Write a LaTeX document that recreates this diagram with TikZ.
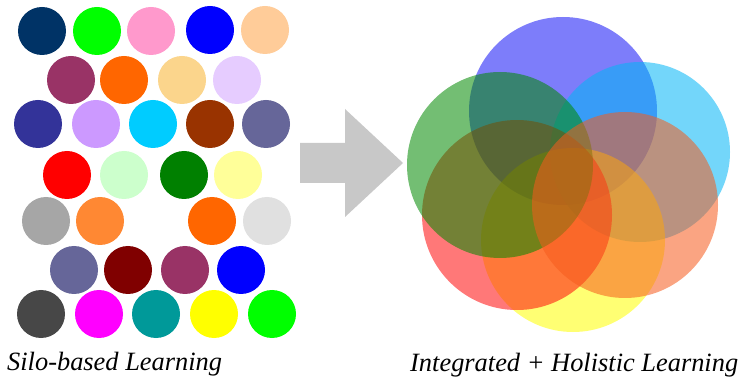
\documentclass[tikz,border=0pt]{standalone}
\usepackage{fontspec}
\setmainfont{Liberation Serif}
\definecolor{cA}{HTML}{003366}
\definecolor{cB}{HTML}{00FF00}
\definecolor{cC}{HTML}{FF99CC}
\definecolor{cD}{HTML}{0000FF}
\definecolor{cE}{HTML}{FFCC99}
\definecolor{cF}{HTML}{993366}
\definecolor{cG}{HTML}{FF6600}
\definecolor{cH}{HTML}{FBD58C}
\definecolor{cI}{HTML}{E6CCFF}
\definecolor{cJ}{HTML}{333399}
\definecolor{cK}{HTML}{CC99FF}
\definecolor{cL}{HTML}{00CCFF}
\definecolor{cM}{HTML}{993300}
\definecolor{cN}{HTML}{666699}
\definecolor{cO}{HTML}{FF0000}
\definecolor{cP}{HTML}{CCFFCC}
\definecolor{cQ}{HTML}{008000}
\definecolor{cR}{HTML}{FFFF99}
\definecolor{cS}{HTML}{A6A6A6}
\definecolor{cT}{HTML}{FF8833}
\definecolor{cU}{HTML}{E0E0E0}
\definecolor{cV}{HTML}{800000}
\definecolor{cW}{HTML}{474747}
\definecolor{cX}{HTML}{FF00FF}
\definecolor{cY}{HTML}{009999}
\definecolor{cZ}{HTML}{FFFF00}
\definecolor{arrowgray}{HTML}{C8C8C8}
\definecolor{bBlue}{HTML}{1313F6}
\definecolor{bCyan}{HTML}{00B6F6}
\definecolor{bYellow}{HTML}{FFFF00}
\definecolor{bOrange}{HTML}{F65B1C}
\definecolor{bRed}{HTML}{FF0A0A}
\definecolor{bGreen}{HTML}{008900}
\begin{document}
\begin{tikzpicture}[x=1pt,y=-1pt,
  dot/.style={fill=#1},
  big/.style={fill=#1,fill opacity=0.55},
  lbl/.style={anchor=base west,inner sep=0pt,font=\fontsize{26.4}{30}\selectfont\itshape}]
\useasboundingbox (0,0) rectangle (744,379);
\fill[white] (0,0) rectangle (744,379);
\def\r{24}
% row 1
\fill[dot=cA] (42,31) circle (\r);
\fill[dot=cB] (97,31) circle (\r);
\fill[dot=cC] (151,31) circle (\r);
\fill[dot=cD] (210,30) circle (\r);
\fill[dot=cE] (265,30) circle (\r);
% row 2
\fill[dot=cF] (71,80) circle (\r);
\fill[dot=cG] (124,80) circle (\r);
\fill[dot=cH] (182,80) circle (\r);
\fill[dot=cI] (237,80) circle (\r);
% row 3
\fill[dot=cJ] (38,124) circle (\r);
\fill[dot=cK] (96,124) circle (\r);
\fill[dot=cL] (153,124) circle (\r);
\fill[dot=cM] (210,124) circle (\r);
\fill[dot=cN] (266,124) circle (\r);
% row 4
\fill[dot=cO] (67,175) circle (\r);
\fill[dot=cP] (124,175) circle (\r);
\fill[dot=cQ] (184,175) circle (\r);
\fill[dot=cR] (238,175) circle (\r);
% row 5
\fill[dot=cS] (46,221) circle (\r);
\fill[dot=cT] (100,221) circle (\r);
\fill[dot=cG] (212,221) circle (\r);
\fill[dot=cU] (267,221) circle (\r);
% row 6
\fill[dot=cN] (74,270) circle (\r);
\fill[dot=cV] (128,270) circle (\r);
\fill[dot=cF] (185,270) circle (\r);
\fill[dot=cD] (241,270) circle (\r);
% row 7
\fill[dot=cW] (41,314) circle (\r);
\fill[dot=cX] (99,314) circle (\r);
\fill[dot=cY] (156,314) circle (\r);
\fill[dot=cZ] (214,314) circle (\r);
\fill[dot=cB] (272,314) circle (\r);
% arrow
\fill[arrowgray] (300,143) -- (345,143) -- (345,109) -- (403,163) -- (345,217) -- (345,183) -- (300,183) -- cycle;
% big circles
\fill[big=bBlue] (563,111) circle (94);
\fill[big=bCyan] (640,152) circle (90);
\fill[big=bYellow] (573,240) circle (92);
\fill[big=bRed] (517,215) circle (95);
\fill[big=bGreen] (500,165) circle (93);
\fill[big=bOrange] (625,205) circle (93);
% labels
\node[lbl] (silo) at (7,370) {Silo-based Learning};
\node[lbl] (holi) at (410,371) {Integrated + Holistic Learning};
\end{tikzpicture}
\end{document}
